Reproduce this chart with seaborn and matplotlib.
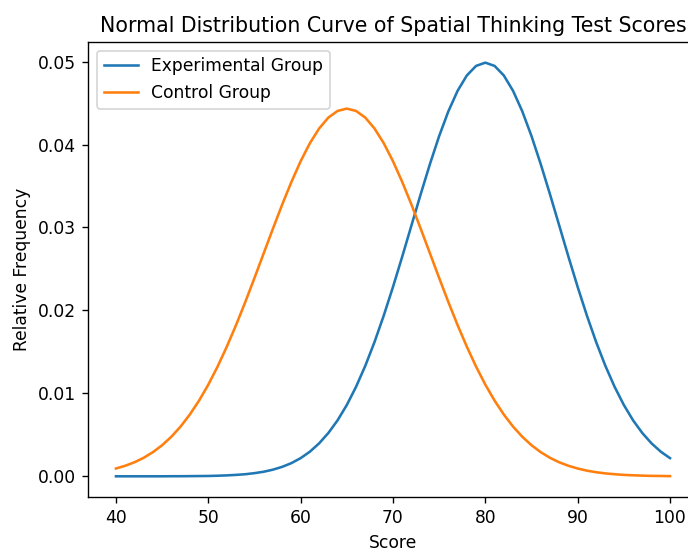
import seaborn as sns
import matplotlib.pyplot as plt
import pandas as pd

# scores 40..100, relative frequency
scores = list(range(40, 101))

experimental = [
    0.0, 0.0, 0.0, 0.0, 0.0, 0.0, 0.00001, 0.00001, 0.00002, 0.00003,
    0.00004, 0.00007, 0.00011, 0.00017, 0.00025, 0.00038, 0.00055, 0.00080, 0.00114, 0.00159,
    0.00219, 0.00297, 0.00397, 0.00522, 0.00675, 0.00860, 0.01079, 0.01332, 0.01619, 0.01938,
    0.02283, 0.02648, 0.03025, 0.03401, 0.03764, 0.04102, 0.04401, 0.04648, 0.04833, 0.04948,
    0.04987, 0.04948, 0.04833, 0.04648, 0.04401, 0.04102, 0.03764, 0.03401, 0.03025, 0.02648,
    0.02283, 0.01938, 0.01619, 0.01332, 0.01079, 0.00860, 0.00675, 0.00522, 0.00397, 0.00297,
    0.00219,
]

control = [
    0.00094, 0.00127, 0.00169, 0.00223, 0.00291, 0.00375, 0.00477, 0.00600, 0.00745, 0.00913,
    0.01105, 0.01322, 0.01562, 0.01822, 0.02100, 0.02391, 0.02689, 0.02986, 0.03276, 0.03549,
    0.03799, 0.04016, 0.04193, 0.04325, 0.04405, 0.04433, 0.04405, 0.04325, 0.04193, 0.04016,
    0.03799, 0.03549, 0.03276, 0.02986, 0.02689, 0.02391, 0.02100, 0.01822, 0.01562, 0.01322,
    0.01105, 0.00913, 0.00745, 0.00600, 0.00477, 0.00375, 0.00291, 0.00223, 0.00169, 0.00127,
    0.00094, 0.00068, 0.00049, 0.00035, 0.00025, 0.00017, 0.00012, 0.00008, 0.00005, 0.00004,
    0.00002,
]

df = pd.DataFrame({'Score': scores, 'Experimental Group': experimental, 'Control Group': control})

# original looks rendered at a higher dpi, so everything is a bit bigger
DPI = 123
fig = plt.figure(figsize=(688 / DPI, 548 / DPI), dpi=DPI)
# the original was cropped on the right, so the axes run a little past the edge
ax = fig.add_axes([0.1283, 0.0931, 0.8858, 0.8303])

sns.lineplot(data=df, x='Score', y='Experimental Group', label='Experimental Group', color='#1f77b4', ax=ax)
sns.lineplot(data=df, x='Score', y='Control Group', label='Control Group', color='#ff7f0e', ax=ax)

ax.set_title('Normal Distribution Curve of Spatial Thinking Test Scores')
ax.set_xlabel('Score')
ax.set_ylabel('Relative Frequency')
ax.legend(loc='upper left')

plt.savefig('out.png', dpi=DPI)
